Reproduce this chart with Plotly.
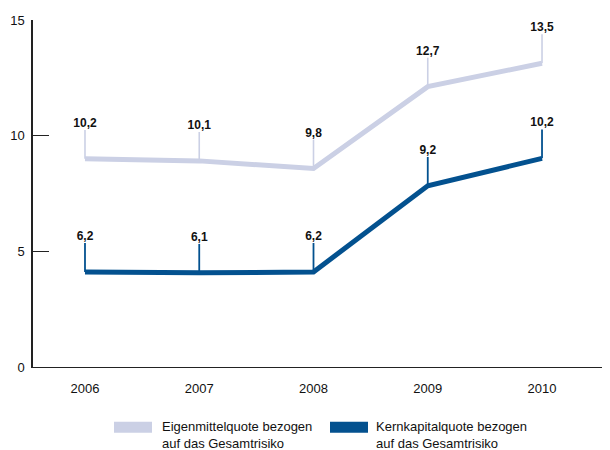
import plotly.graph_objects as go

years = [2006, 2007, 2008, 2009, 2010]
eigen_plot = [9.0, 8.91, 8.58, 12.12, 13.13]
eigen_labels = ["10,2", "10,1", "9,8", "12,7", "13,5"]
kern_plot = [4.11, 4.07, 4.11, 7.83, 9.02]
kern_labels = ["6,2", "6,1", "6,2", "9,2", "10,2"]
names = ["Eigenmittelquote bezogen<br>auf das Gesamtrisiko",
         "Kernkapitalquote bezogen<br>auf das Gesamtrisiko"]
y_ticks = [0, 5, 10, 15]

LIGHT = "#cbd0e5"
DARK = "#03518f"
STEM = 1.25
FONT = "Liberation Sans, Arial, Helvetica, sans-serif"

fig = go.Figure()

for vals, labels, col, stem_w in [(eigen_plot, eigen_labels, LIGHT, 1.6),
                                   (kern_plot, kern_labels, DARK, 1.8)]:
    sx, sy = [], []
    for x, v in zip(years, vals):
        sx += [x, x, None]
        sy += [v, v + STEM, None]
    fig.add_trace(go.Scatter(x=sx, y=sy, mode="lines",
                             line=dict(color=col, width=stem_w),
                             showlegend=False, hoverinfo="skip"))
    fig.add_trace(go.Scatter(x=years, y=vals, mode="lines",
                             line=dict(color=col, width=5),
                             showlegend=False))
    fig.add_trace(go.Scatter(x=years, y=[v + STEM for v in vals], mode="text",
                             text=["<b>%s</b>" % t for t in labels],
                             textposition="top center",
                             textfont=dict(family=FONT, size=12, color="#111"),
                             cliponaxis=False, showlegend=False, hoverinfo="skip"))

# custom legend (plot area spans page px 33..610 horizontally, 20..367 vertically)
def px_x(px):
    return (px - 33) / 577.0

def px_y(py):
    return (367 - py) / 347.0

for (x0, x1, tx), col, name in [((114, 152, 160), LIGHT, names[0]),
                                ((330, 368, 374), DARK, names[1])]:
    fig.add_shape(type="rect", xref="paper", yref="paper",
                  x0=px_x(x0), x1=px_x(x1), y0=px_y(432.7), y1=px_y(421.7),
                  fillcolor=col, line=dict(width=0))
    fig.add_annotation(xref="paper", yref="paper", x=px_x(tx), y=px_y(434.5),
                       text=name, showarrow=False, xanchor="left", yanchor="middle",
                       align="left", font=dict(family=FONT, size=13, color="#111"))

# page body has an 8px margin, so the figure is made 8px smaller and margins trimmed
fig.update_layout(
    width=602, height=442,
    margin=dict(l=25, r=0, t=12, b=83),
    plot_bgcolor="white", paper_bgcolor="white",
    font=dict(family=FONT, size=13, color="#111"),
    showlegend=False,
    xaxis=dict(range=[2005.545, 2010.595], tickvals=years,
               ticktext=[str(y) for y in years], showgrid=False, zeroline=False,
               showline=True, linecolor="#222", linewidth=1, ticks="",
               ticklabelstandoff=9, tickfont=dict(size=13), automargin=False),
    yaxis=dict(range=[0, 15], tickvals=y_ticks, showgrid=False, zeroline=False,
               showline=True, linecolor="#222", linewidth=1.5,
               ticks="inside", ticklen=16, tickcolor="#222", tickwidth=1,
               ticklabelstandoff=4, tickfont=dict(size=13), automargin=False),
)

fig.write_html("out.html")
